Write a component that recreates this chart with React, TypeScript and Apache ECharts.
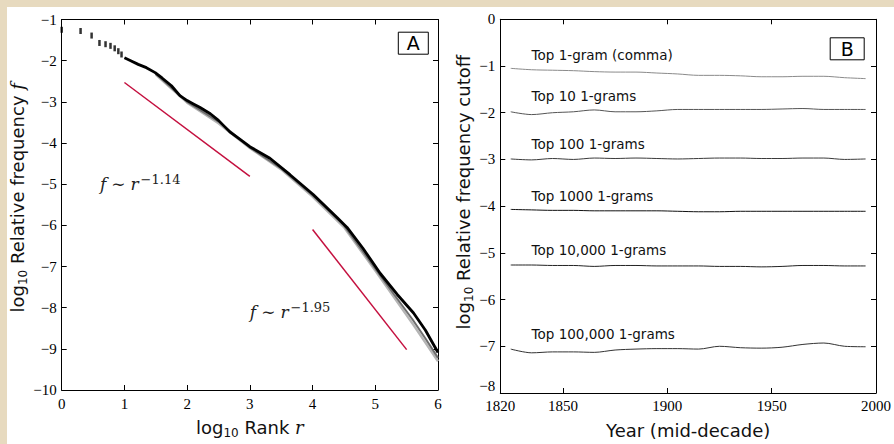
import React, { useEffect, useRef } from 'react';
import * as echarts from 'echarts';

// ---- Panel A: rank / frequency (log10 values) ----
const rankLogX = [0, 0.301, 0.477, 0.602, 0.699, 0.778, 0.845, 0.903, 0.954];
const rankLogF = [-1.25, -1.28, -1.39, -1.57, -1.6, -1.64, -1.7, -1.77, -1.85];

const curveX = [1.0, 1.1, 1.22, 1.35, 1.49, 1.6, 1.75, 1.885, 2.0, 2.1, 2.2, 2.37, 2.5, 2.68, 2.85, 3.0, 3.32, 3.64, 4.01, 4.39, 4.55, 4.8, 5.08, 5.35, 5.61, 5.8, 6.0];
const curveF = [-1.93, -2.0, -2.09, -2.17, -2.29, -2.42, -2.61, -2.85, -2.97, -3.05, -3.13, -3.29, -3.45, -3.73, -3.92, -4.09, -4.37, -4.77, -5.25, -5.81, -6.05, -6.55, -7.17, -7.68, -8.13, -8.55, -9.09];

const spreadX = [1.5, 2.0, 2.5, 3.0, 3.5, 4.0, 4.5, 5.0, 5.3, 5.6, 5.8, 6.0];
const spreadLightF = [-2.34, -3.02, -3.52, -4.12, -4.64, -5.3, -6.04, -7.1, -7.75, -8.4, -8.85, -9.3];
const spreadMidF = [-2.32, -3.0, -3.48, -4.11, -4.62, -5.27, -6.0, -7.05, -7.68, -8.3, -8.75, -9.22];

const fit1X = [1, 3];
const fit1F = [-2.53, -4.81];
const fit2X = [4, 5.5];
const fit2F = [-6.1, -9.02];

// ---- Panel B: frequency cutoffs by mid-decade year ----
const years = [1825, 1835, 1845, 1855, 1865, 1875, 1885, 1895, 1905, 1915, 1925, 1935, 1945, 1955, 1965, 1975, 1985, 1995];
const cutoffComma = [-1.05, -1.08, -1.09, -1.1, -1.12, -1.13, -1.13, -1.15, -1.17, -1.2, -1.2, -1.21, -1.23, -1.23, -1.22, -1.22, -1.25, -1.27];
const cutoffTop10 = [-1.98, -2.04, -2.0, -1.98, -1.94, -1.98, -1.98, -1.96, -1.93, -1.93, -1.93, -1.93, -1.93, -1.92, -1.91, -1.93, -1.93, -1.93];
const cutoffTop100 = [-2.99, -3.01, -2.98, -3.0, -2.97, -2.98, -2.97, -2.98, -2.99, -2.98, -2.97, -2.97, -2.98, -2.98, -2.97, -2.97, -3.0, -2.99];
const cutoffTop1000 = [-4.07, -4.08, -4.09, -4.09, -4.1, -4.1, -4.1, -4.1, -4.11, -4.12, -4.12, -4.11, -4.11, -4.11, -4.11, -4.11, -4.11, -4.11];
const cutoffTop10000 = [-5.26, -5.26, -5.27, -5.27, -5.29, -5.27, -5.27, -5.28, -5.28, -5.28, -5.29, -5.29, -5.3, -5.29, -5.27, -5.27, -5.28, -5.28];
const cutoffTop100000 = [-7.06, -7.14, -7.12, -7.12, -7.13, -7.08, -7.06, -7.05, -7.05, -7.06, -7.0, -7.03, -7.04, -7.02, -6.96, -6.93, -7.0, -7.01];

const cutoffNames = ['Top 1-gram (comma)', 'Top 10 1-grams', 'Top 100 1-grams', 'Top 1000 1-grams', 'Top 10,000 1-grams', 'Top 100,000 1-grams'];
const cutoffSeries = [cutoffComma, cutoffTop10, cutoffTop100, cutoffTop1000, cutoffTop10000, cutoffTop100000];
const cutoffColors = ['#8a8a8a', '#555555', '#3a3a3a', '#111111', '#222222', '#333333'];
const cutoffLabelYear = 1835;
const cutoffLabelAt = [-0.76, -1.65, -2.68, -3.78, -4.93, -6.74];

const yearTicks = [1820, 1850, 1900, 1950, 2000];

const serif = "'Liberation Serif', serif";
const sans = "'DejaVu Sans', sans-serif";
const mathSerif = "'DejaVu Serif', serif";

const minus = (v: number) => String(v).replace('-', '\u2212');
const zip = (xs: number[], ys: number[]) => xs.map((x, i) => [x, ys[i]]);

const axisLine = { show: true, onZero: false, lineStyle: { color: '#000', width: 1 } };
const axisTick = { show: true, inside: true, length: 5, lineStyle: { color: '#000', width: 1 } };
const tickLabel = { fontFamily: serif, fontSize: 15, color: '#000', margin: 5, formatter: minus };

const nameRich = {
  n: { fontFamily: sans, fontSize: 18, color: '#111', lineHeight: 24 },
  s: { fontFamily: sans, fontSize: 12, color: '#111', lineHeight: 12, verticalAlign: 'bottom' },
  i: { fontFamily: mathSerif, fontStyle: 'italic', fontSize: 18, color: '#111', lineHeight: 24 },
};

export default function App() {
  const ref = useRef<HTMLDivElement>(null);

  useEffect(() => {
    document.body.style.margin = '0';
    if (!ref.current) return;
    const chart = echarts.init(ref.current, undefined, { renderer: 'svg' });

    const series: any[] = [
      {
        type: 'line', xAxisIndex: 0, yAxisIndex: 0, data: zip(spreadX, spreadLightF),
        showSymbol: false, lineStyle: { color: '#b5b5b5', width: 2.5 }, z: 2,
      },
      {
        type: 'line', xAxisIndex: 0, yAxisIndex: 0, data: zip(spreadX, spreadMidF),
        showSymbol: false, lineStyle: { color: '#6e6e6e', width: 2 }, z: 3,
      },
      {
        type: 'line', xAxisIndex: 0, yAxisIndex: 0, data: zip(curveX, curveF),
        showSymbol: false, lineStyle: { color: '#000', width: 2.8 }, z: 4,
      },
      {
        type: 'scatter', xAxisIndex: 0, yAxisIndex: 0, data: zip(rankLogX, rankLogF),
        symbol: 'rect', symbolSize: [2.5, 6], itemStyle: { color: '#000' }, z: 4,
      },
      {
        type: 'line', xAxisIndex: 0, yAxisIndex: 0, data: zip(fit1X, fit1F),
        showSymbol: false, lineStyle: { color: '#c4103f', width: 1.5 }, z: 5,
      },
      {
        type: 'line', xAxisIndex: 0, yAxisIndex: 0, data: zip(fit2X, fit2F),
        showSymbol: false, lineStyle: { color: '#c4103f', width: 1.5 }, z: 5,
      },
      ...cutoffSeries.map((vals, k) => ({
        name: cutoffNames[k],
        type: 'line', xAxisIndex: 2, yAxisIndex: 2, data: zip(years, vals),
        showSymbol: false, smooth: 0.3, lineStyle: { color: cutoffColors[k], width: 1 },
      })),
    ];

    chart.setOption({
      animation: false,
      backgroundColor: '#ffffff',
      title: [
        {
          text: 'A', left: 391.3, top: 24.7, padding: [1, 8.5, 1, 8.5],
          backgroundColor: '#fff', borderColor: '#000', borderWidth: 1,
          textStyle: { fontFamily: sans, fontSize: 19, fontWeight: 'normal', color: '#000', lineHeight: 21 },
        },
        {
          text: 'B', left: 822.7, top: 30.3, padding: [1, 11, 1, 11],
          backgroundColor: '#fff', borderColor: '#000', borderWidth: 1,
          textStyle: { fontFamily: sans, fontSize: 19, fontWeight: 'normal', color: '#000', lineHeight: 21 },
        },
      ],
      grid: [
        { left: 54.7, top: 12.5, right: 456, bottom: 49, containLabel: false },
        { left: 493.3, top: 12.3, right: 17.5, bottom: 49, containLabel: false },
      ],
      xAxis: [
        {
          type: 'value', gridIndex: 0, position: 'bottom', min: 0, max: 6, interval: 1,
          axisLine, axisTick, splitLine: { show: false }, axisLabel: { ...tickLabel, margin: 6 },
          name: '{n|log}{s|10}{n| Rank }{i|r}', nameLocation: 'middle', nameGap: 25,
          nameTextStyle: { rich: nameRich },
        },
        {
          type: 'value', gridIndex: 0, position: 'top', min: 0, max: 6, interval: 1,
          axisLine, axisTick, splitLine: { show: false }, axisLabel: { show: false },
        },
        {
          type: 'value', gridIndex: 1, position: 'bottom', min: 1820, max: 2000, interval: 10,
          axisLine,
          axisTick: { ...axisTick, customValues: yearTicks },
          splitLine: { show: false },
          axisLabel: { ...tickLabel, customValues: yearTicks, formatter: (v: number) => String(v) },
          name: '{n|Year (mid-decade)}', nameLocation: 'middle', nameGap: 25,
          nameTextStyle: { rich: nameRich },
        },
        {
          type: 'value', gridIndex: 1, position: 'top', min: 1820, max: 2000, interval: 10,
          axisLine,
          axisTick: { ...axisTick, customValues: yearTicks },
          splitLine: { show: false }, axisLabel: { show: false },
        },
      ],
      yAxis: [
        {
          type: 'value', gridIndex: 0, position: 'left', min: -10, max: -1, interval: 1,
          axisLine, axisTick, splitLine: { show: false },
          axisLabel: tickLabel,
          name: '{n|log}{s|10}{n| Relative frequency }{i|f}', nameLocation: 'middle', nameGap: 30,
          nameRotate: 90,
          nameTextStyle: { rich: nameRich, padding: [0, 0, 0, 14] },
        },
        {
          type: 'value', gridIndex: 0, position: 'right', min: -10, max: -1, interval: 1,
          axisLine, axisTick, splitLine: { show: false }, axisLabel: { show: false },
        },
        {
          type: 'value', gridIndex: 1, position: 'left', min: -8, max: 0, interval: 1,
          axisLine, axisTick, splitLine: { show: false },
          axisLabel: { ...tickLabel, verticalAlignMinLabel: 'bottom' },
          name: '{n|log}{s|10}{n| Relative frequency cutoff}', nameLocation: 'middle', nameGap: 22,
          nameRotate: 90,
          nameTextStyle: { rich: nameRich, padding: [0, 0, 0, 28] },
        },
        {
          type: 'value', gridIndex: 1, position: 'right', min: -8, max: 0, interval: 1,
          axisLine, axisTick, splitLine: { show: false }, axisLabel: { show: false },
        },
      ],
      series,
    });

    const pa = (p: number[]) => chart.convertToPixel({ xAxisIndex: 0, yAxisIndex: 0 }, p) as number[];
    const pb = (p: number[]) => chart.convertToPixel({ xAxisIndex: 2, yAxisIndex: 2 }, p) as number[];

    const mathRich = {
      i: { fontFamily: mathSerif, fontStyle: 'italic', fontSize: 17, fill: '#222', lineHeight: 22 },
      o: { fontFamily: mathSerif, fontSize: 17, fill: '#222', lineHeight: 22, padding: [0, 5, 0, 5] },
      s: { fontFamily: mathSerif, fontSize: 13, fill: '#222', lineHeight: 14, verticalAlign: 'top', padding: [0, 0, 0, 2] },
    };
    const ann1 = pa([0.61, -5.0]);
    const ann2 = pa([3.0, -8.1]);

    const graphic: any[] = [
      {
        type: 'text', x: ann1[0], y: ann1[1],
        style: { text: '{i|f}{o|\u223C}{i|r}{s|\u22121.14}', rich: mathRich, align: 'left', verticalAlign: 'middle' },
      },
      {
        type: 'text', x: ann2[0], y: ann2[1],
        style: { text: '{i|f}{o|\u223C}{i|r}{s|\u22121.95}', rich: mathRich, align: 'left', verticalAlign: 'middle' },
      },
      ...cutoffNames.map((name, k) => {
        const p = pb([cutoffLabelYear, cutoffLabelAt[k]]);
        return {
          type: 'text', x: p[0], y: p[1],
          style: { text: name, fontFamily: sans, fontSize: 13.5, fill: '#111', align: 'left', verticalAlign: 'middle' },
        };
      }),
    ];
    chart.setOption({ graphic });

    return () => chart.dispose();
  }, []);

  return (
    <div style={{ position: 'relative', width: 894, height: 444, background: '#e7dabf' }}>
      <div
        ref={ref}
        style={{ position: 'absolute', left: 7, top: 7, width: 887, height: 437, background: '#fff' }}
      />
    </div>
  );
}
